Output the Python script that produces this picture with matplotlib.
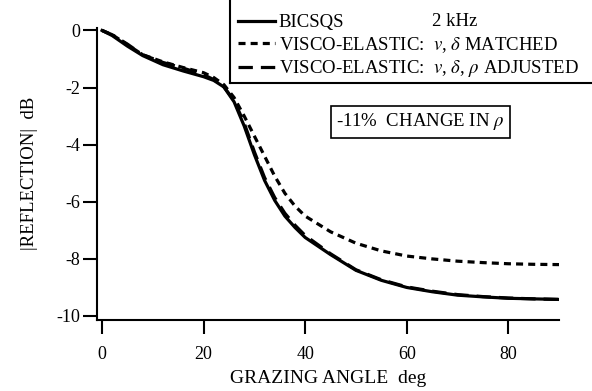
import matplotlib
matplotlib.use("Agg")
import matplotlib.pyplot as plt
from matplotlib.lines import Line2D

plt.rcParams['font.family'] = ['Liberation Serif', 'DejaVu Serif']
plt.rcParams['mathtext.fontset'] = 'stix'
plt.rcParams['axes.unicode_minus'] = False

# grazing angle (deg)
angle = [0, 2, 5, 8, 12, 16, 20, 22, 24, 26, 28, 30, 32, 34, 36, 38, 40,
         45, 50, 55, 60, 65, 70, 75, 80, 85, 90]
# BICSQS
bicsqs = [0, -0.18, -0.55, -0.88, -1.2, -1.42, -1.62, -1.75, -1.98, -2.5, -3.35,
          -4.35, -5.25, -5.95, -6.5, -6.9, -7.25, -7.85, -8.4, -8.75, -9.0,
          -9.15, -9.27, -9.33, -9.38, -9.4, -9.42]
# visco-elastic, v and delta matched
visco_matched = [0, -0.15, -0.5, -0.85, -1.1, -1.3, -1.48, -1.65, -1.9, -2.35, -3.0,
                 -3.7, -4.4, -5.1, -5.7, -6.15, -6.5, -7.05, -7.45, -7.72, -7.9,
                 -8.0, -8.08, -8.13, -8.17, -8.19, -8.2]
# visco-elastic, v, delta, rho adjusted
visco_adjusted = [0, -0.15, -0.48, -0.85, -1.12, -1.32, -1.55, -1.72, -1.98, -2.45,
                  -3.25, -4.25, -5.15, -5.85, -6.4, -6.82, -7.18, -7.82, -8.38,
                  -8.73, -8.98, -9.13, -9.25, -9.32, -9.37, -9.4, -9.42]

xticks = [0, 20, 40, 60, 80]
yticks = [0, -2, -4, -6, -8, -10]

fs = 13.5
dotted = (0, (2.2, 1.6))
dashed = (0, (4.5, 2.5))

fig = plt.figure(figsize=(5.92, 3.91), dpi=100)
ax = fig.add_axes([97 / 592, 0.1816, 462 / 592, 0.7478])

ax.plot(angle, bicsqs, color='black', lw=2.3)
ax.plot(angle, visco_matched, color='black', lw=2.3, linestyle=dotted)
ax.plot(angle, visco_adjusted, color='black', lw=2.3, linestyle=dashed)

ax.set_xlim(-1, 90)
ax.set_ylim(-10.14, 0.1)
ax.set_xticks(xticks)
ax.set_yticks(yticks)
for s in ['top', 'right']:
    ax.spines[s].set_visible(False)
for s in ['left', 'bottom']:
    ax.spines[s].set_linewidth(1.5)
ax.tick_params(direction='out', length=10, width=1.5, labelsize=13)
ax.tick_params(axis='x', pad=9)
ax.tick_params(axis='y', pad=2)

ax.set_xlabel('GRAZING ANGLE  deg', fontsize=14, labelpad=5)
ax.set_ylabel('|REFLECTION|  dB', fontsize=fs, labelpad=13)

handles = [
    Line2D([], [], color='black', lw=2.3),
    Line2D([], [], color='black', lw=2.3, linestyle=dotted),
    Line2D([], [], color='black', lw=2.3, linestyle=dashed),
]
labels = [
    'BICSQS',
    r'VISCO-ELASTIC:  $v$, $\delta$ MATCHED',
    r'VISCO-ELASTIC:  $v$, $\delta$, $\rho$ ADJUSTED',
]
leg = fig.legend(handles, labels, loc='lower left',
                 bbox_to_anchor=(231 / 592, 1 - 86 / 391), fontsize=fs,
                 frameon=False, handlelength=2.0,
                 handletextpad=0.2, labelspacing=0.2, borderpad=0.35,
                 borderaxespad=0)
# legend box: only its left and bottom edges fall inside the picture
fig.add_artist(Line2D([230 / 592, 230 / 592], [1.0, 1 - 83 / 391],
                      transform=fig.transFigure, color='black', lw=1.5))
fig.add_artist(Line2D([230 / 592, 1.0], [1 - 83 / 391, 1 - 83 / 391],
                      transform=fig.transFigure, color='black', lw=1.5))
fig.text(432 / 592, 1 - 21 / 391, '2 kHz', fontsize=fs, va='center', zorder=10)

ax.text(62.7, -3.2, r'-11%  CHANGE IN $\rho$', fontsize=fs,
        ha='center', va='center',
        bbox=dict(boxstyle='square,pad=0.3', fc='white', ec='black', lw=1.2))

fig.savefig('out.png', dpi=100)
